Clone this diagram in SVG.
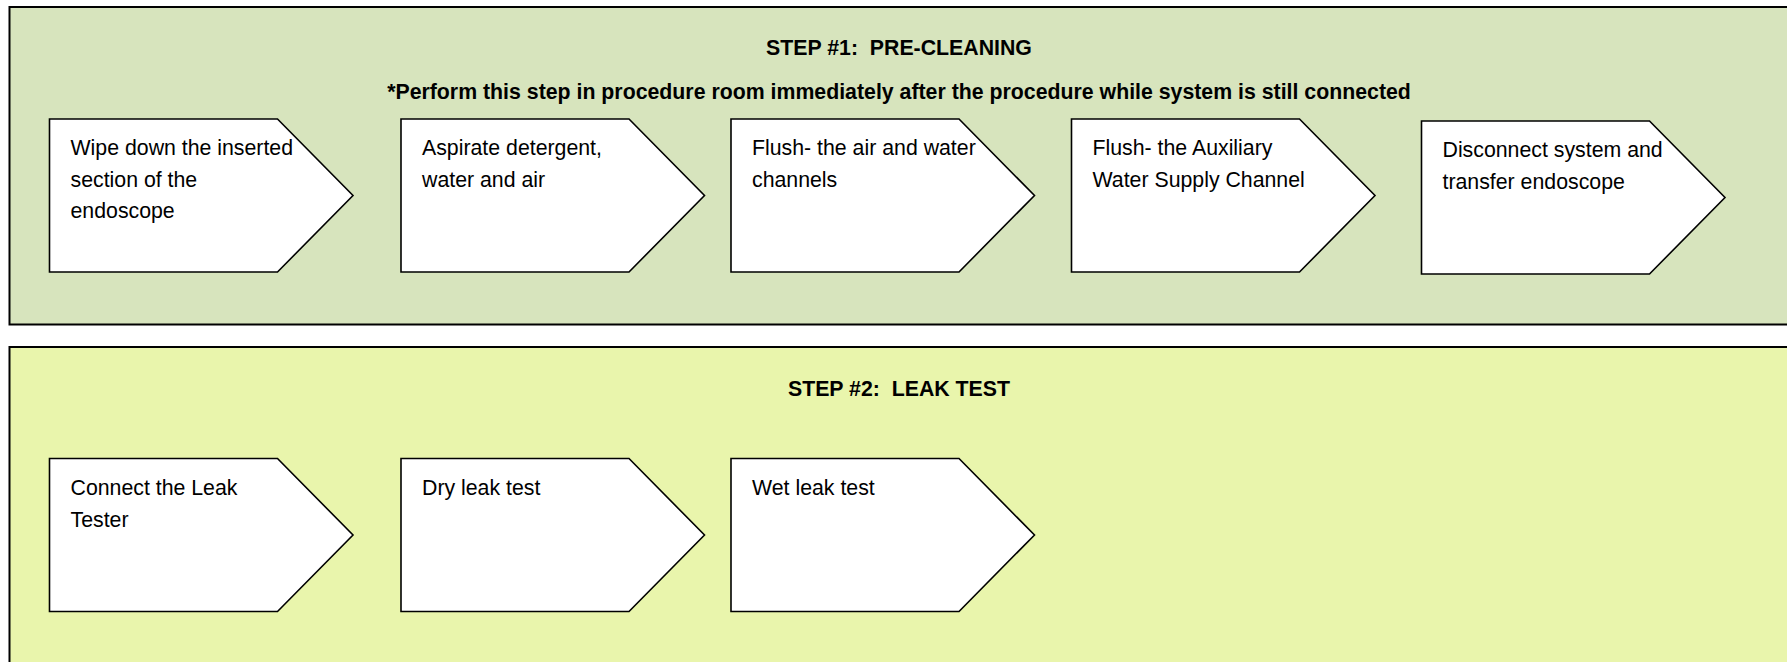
<svg xmlns="http://www.w3.org/2000/svg" width="1787" height="662" viewBox="0 0 1787 662">
<style>
.panel{stroke:#000;stroke-width:2}
.p1{fill:#D7E4BD}
.p2{fill:#E9F5AC}
.node polygon{fill:#fff;stroke:#000;stroke-width:1.6;stroke-linejoin:miter}
.node text{font-family:"Liberation Sans",Arial,sans-serif;font-size:21.3px;fill:#000}
.title{font-family:"Liberation Sans",Arial,sans-serif;font-size:21.3px;font-weight:bold;fill:#000;text-anchor:middle}
</style>
<g id="panel-step1">
<rect class="panel p1" x="9.5" y="7" width="1790" height="317.5"/>
<text class="title" x="899" y="55" xml:space="preserve">STEP #1:  PRE-CLEANING</text>
<text class="title" x="899" y="98.5">*Perform this step in procedure room immediately after the procedure while system is still connected</text>
</g>
<g id="panel-step2">
<rect class="panel p2" x="9.5" y="347" width="1790" height="330"/>
<text class="title" x="899" y="396" xml:space="preserve">STEP #2:  LEAK TEST</text>
</g>
<g id="connectors"></g>
<g id="n1" class="node">
<polygon points="49.5,119 277.5,119 353,195.5 277.5,272 49.5,272"/>
<text x="70.5" y="155">Wipe down the inserted</text>
<text x="70.5" y="186.7">section of the</text>
<text x="70.5" y="218.4">endoscope</text>
</g>
<g id="n2" class="node">
<polygon points="401,119 629,119 704.5,195.5 629,272 401,272"/>
<text x="422" y="155">Aspirate detergent,</text>
<text x="422" y="186.7">water and air</text>
</g>
<g id="n3" class="node">
<polygon points="731,119 959,119 1034.5,195.5 959,272 731,272"/>
<text x="752" y="155">Flush- the air and water</text>
<text x="752" y="186.7">channels</text>
</g>
<g id="n4" class="node">
<polygon points="1071.5,119 1299.5,119 1375,195.5 1299.5,272 1071.5,272"/>
<text x="1092.5" y="155">Flush- the Auxiliary</text>
<text x="1092.5" y="186.7">Water Supply Channel</text>
</g>
<g id="n5" class="node">
<polygon points="1421.5,121 1649.5,121 1725,197.5 1649.5,274 1421.5,274"/>
<text x="1442.5" y="157">Disconnect system and</text>
<text x="1442.5" y="188.7">transfer endoscope</text>
</g>
<g id="n6" class="node">
<polygon points="49.5,458.5 277.5,458.5 353,535 277.5,611.5 49.5,611.5"/>
<text x="70.5" y="495">Connect the Leak</text>
<text x="70.5" y="526.7">Tester</text>
</g>
<g id="n7" class="node">
<polygon points="401,458.5 629,458.5 704.5,535 629,611.5 401,611.5"/>
<text x="422" y="495">Dry leak test</text>
</g>
<g id="n8" class="node">
<polygon points="731,458.5 959,458.5 1034.5,535 959,611.5 731,611.5"/>
<text x="752" y="495">Wet leak test</text>
</g>
</svg>
